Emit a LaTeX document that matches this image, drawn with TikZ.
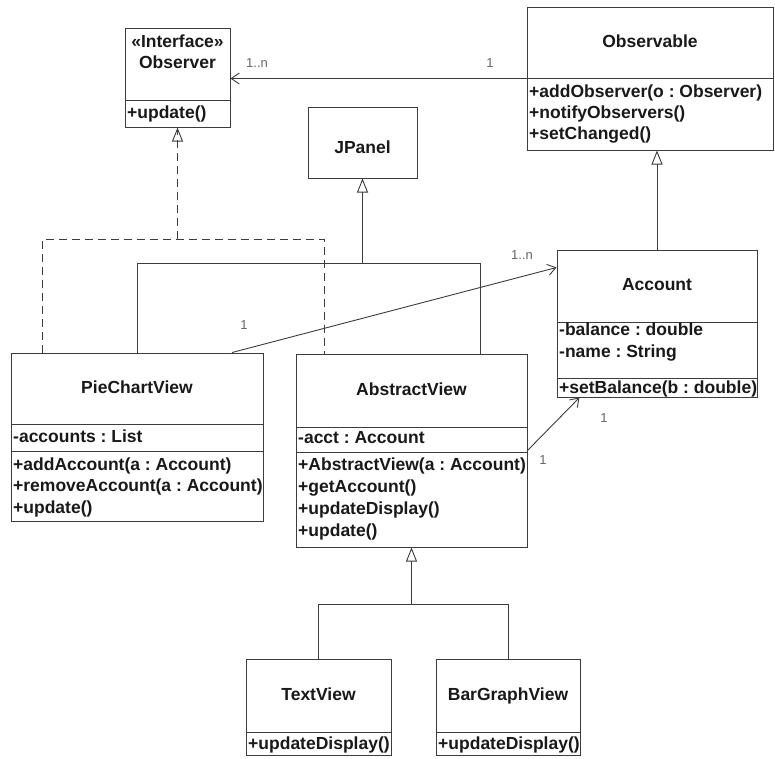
\documentclass[tikz,border=0pt]{standalone}
\usepackage{fontspec}
\setmainfont{Liberation Sans}
\usetikzlibrary{arrows.meta}
\definecolor{linec}{RGB}{60,60,60}
\definecolor{txtc}{RGB}{25,25,25}
\frenchspacing
\begin{document}
\begin{tikzpicture}[x=1pt,y=-1pt,
  box/.style={draw=linec, line width=1pt, inner sep=0pt, fill=white},
  title/.style={font=\fontsize{17.5}{20}\selectfont\bfseries, inner sep=0pt, text=txtc, anchor=mid, yshift=-3pt},
  memb/.style={font=\fontsize{17.5}{20}\selectfont\bfseries, inner sep=0pt, text=txtc, anchor=mid west, yshift=-3pt},
  mult/.style={font=\fontsize{13}{15}\selectfont, text=black!60, inner sep=0pt, anchor=mid, yshift=-2pt},
  conn/.style={draw=linec, line width=0.9pt},
  div/.style={draw=linec, line width=1pt},
  gen/.style={conn, -{Triangle[open, length=14pt, width=11pt]}},
  assoc/.style={conn, -{Straight Barb[length=8pt, width=11pt]}},
  real/.style={conn, dash pattern=on 8pt off 5pt}
]
\fill[white] (0,0) rectangle (775,758);
\useasboundingbox (0,0) rectangle (775,758);

% ---------- Observer ----------
\node[box, minimum width=105pt, minimum height=99pt] (observer) at (177.5,77.5) {};
\draw[div] (125,100) -- (230,100);
\node[title] (obst) at (177.5,42) {«Interface»};
\node[title] (obsn) at (177.5,63) {Observer};
\node[memb] (obsm1) at (127,113) {+update()};

% ---------- Observable ----------
\node[box, minimum width=246pt, minimum height=143pt] (observable) at (650,78.5) {};
\draw[div] (527,78) -- (773,78);
\node[title] (oblt) at (650,42) {Observable};
\node[memb] (oblm1) at (529,92) {+addObserver(o : Observer)};
\node[memb] (oblm2) at (529,113) {+notifyObservers()};
\node[memb] (oblm3) at (529,134) {+setChanged()};

% ---------- JPanel ----------
\node[box, minimum width=109pt, minimum height=71pt] (jpanel) at (362.5,142.5) {};
\node[title] (jpt) at (362.5,148) {JPanel};

% ---------- Account ----------
\node[box, minimum width=200pt, minimum height=147pt] (account) at (657,323.5) {};
\draw[div] (557,322) -- (757,322);
\draw[div] (557,378) -- (757,378);
\node[title] (acct) at (657,285) {Account};
\node[memb] (accm1) at (559,330) {-balance : double};
\node[memb] (accm2) at (559,352) {-name : String};
\node[memb] (accm3) at (559,388) {+setBalance(b : double)};

% ---------- PieChartView ----------
\node[box, minimum width=252pt, minimum height=168pt] (pie) at (137,437) {};
\draw[div] (11,424) -- (263,424);
\draw[div] (11,451) -- (263,451);
\node[title] (piet) at (137,388) {PieChartView};
\node[memb] (piea1) at (13,437) {-accounts : List};
\node[memb] (piem1) at (13,465) {+addAccount(a : Account)};
\node[memb] (piem2) at (13,486) {+removeAccount(a : Account)};
\node[memb] (piem3) at (13,508) {+update()};

% ---------- AbstractView ----------
\node[box, minimum width=231pt, minimum height=193pt] (abs) at (411.5,450.5) {};
\draw[div] (296,427) -- (527,427);
\draw[div] (296,452) -- (527,452);
\node[title] (abst) at (411.5,390) {AbstractView};
\node[memb] (absa1) at (298,438) {-acct : Account};
\node[memb] (absm1) at (298,465) {+AbstractView(a : Account)};
\node[memb] (absm2) at (298,487) {+getAccount()};
\node[memb] (absm3) at (298,509) {+updateDisplay()};
\node[memb] (absm4) at (298,531) {+update()};

% ---------- TextView ----------
\node[box, minimum width=145pt, minimum height=96pt] (textv) at (318.5,707) {};
\draw[div] (246,732) -- (391,732);
\node[title] (textt) at (318.5,695) {TextView};
\node[memb] (textm1) at (248,744) {+updateDisplay()};

% ---------- BarGraphView ----------
\node[box, minimum width=144pt, minimum height=96pt] (bar) at (508,707) {};
\draw[div] (436,732) -- (580,732);
\node[title] (bart) at (508,695) {BarGraphView};
\node[memb] (barm1) at (438,744) {+updateDisplay()};

% ---------- junction coordinates ----------
\coordinate (d1) at (42,239);
\coordinate (dj) at (177.5,239);
\coordinate (d2) at (324,239);
\coordinate (jl) at (137,263);
\coordinate (jj) at (362.5,263);
\coordinate (jr) at (480,263);
\coordinate (tl) at (318.5,604);
\coordinate (tj) at (411.5,604);
\coordinate (tr) at (508,604);

% ---------- connectors ----------
% Observable -> Observer association
\draw[assoc] (observable.west) -- (observable.west -| observer.east);
\node[mult] (m1) at (257,63) {1..n};
\node[mult] (m2) at (490,63) {1};

% realization to Observer (dashed)
\draw[real] (d1 |- pie.north) -- (d1) -- (d2) -- (d2 |- abs.north);
\draw[real] (dj) -- (observer.south);
\draw[conn, -{Triangle[open, length=14pt, width=11pt]}] ([yshift=-14pt]observer.south) -- (observer.south);

% generalization to JPanel
\draw[conn] (jl |- pie.north) -- (jl) -- (jr) -- (jr |- abs.north);
\draw[gen] (jj) -- (jpanel.south);

% Account -> Observable
\draw[gen] (account.north) -- (account.north |- observable.south);

% PieChartView -> Account
\draw[assoc] ([xshift=95pt]pie.north) -- ([yshift=-18pt]account.north west);
\node[mult] (m3) at (244,325) {1};
\node[mult] (m4) at (522,255) {1..n};

% AbstractView -> Account
\draw[assoc] (abs.east) -- ([xshift=23pt]account.south west);
\node[mult] (m5) at (604,418) {1};
\node[mult] (m6) at (543,460) {1};

% TextView / BarGraphView -> AbstractView
\draw[conn] (tl |- textv.north) -- (tl) -- (tr) -- (tr |- bar.north);
\draw[gen] (tj) -- (abs.south);

\end{tikzpicture}
\end{document}
